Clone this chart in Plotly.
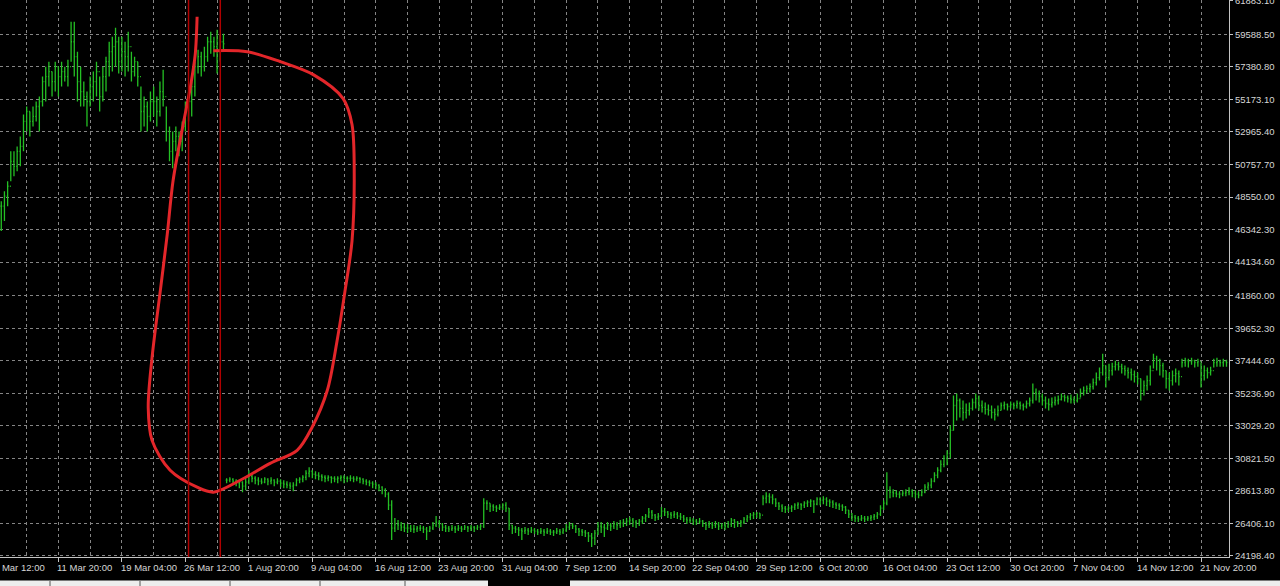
import plotly.graph_objects as go

# ---------------- data ----------------
FIRST_BAR = 2            # index of the first visible bar
BLOCK_STARTS = [2, 73]   # bars where a new history block starts (March block, August block)

bar_high = [
    48270, 48947, 49623, 51651, 51651, 51989, 52665, 54153,
    54694, 54356, 54694, 55032, 55370, 56722, 57398, 57737, 57062, 57737,
    57398, 57737, 57398, 57872, 60441, 60441, 58415, 57398, 56384, 55708,
    56722, 57062, 57737, 56722, 57398, 58074, 59089, 59427, 60036, 59427,
    59427, 59089, 59765, 58415, 58074, 57737, 56046, 55370, 55032, 55708,
    56046, 55370, 56384, 57196, 54694, 53341, 53003, 53341, 53003, 53679,
    55032, 55708, 56384, 57737, 58548, 58415, 58751, 59427, 59765, 59427,
    59900, 59562, 59630,
    29474, 29542, 29474, 29407, 29339, 29272, 29474,
    30015, 29745, 29610, 29542, 29474, 29542, 29474, 29542, 29407, 29474,
    29407, 29339, 29272, 29204, 29204, 29474, 29542, 29677, 30015, 30218,
    30015, 29948, 29880, 29745, 29677, 29677, 29610, 29610, 29610, 29677,
    29677, 29610, 29677, 29610, 29610, 29542, 29474, 29407, 29339, 29272,
    29204, 29069, 28934, 28798, 28528, 27987, 26770, 26635, 26500, 26432,
    26365, 26297, 26297, 26230, 26297, 26230, 26162, 26230, 26500, 26906,
    26635, 26432, 26297, 26230, 26297, 26230, 26297, 26230, 26297, 26230,
    26297, 26230, 26297, 26365, 28122, 27987, 27784, 27717, 27649, 27717,
    27784, 27852, 27446, 26297, 26230, 26162, 26094, 26162, 26094, 26162,
    26094, 26027, 26094, 26027, 26094, 26027, 25959, 26094, 26027, 26094,
    26365, 26500, 26432, 26297, 26094, 26027, 25959, 25824, 25756, 25959,
    26500, 26500, 26365, 26500, 26432, 26568, 26500, 26635, 26703, 26770,
    26838, 26770, 26635, 26703, 26906, 27041, 27446, 27311, 27041, 27108,
    27514, 27446, 27244, 27176, 27244, 27176, 27108, 26973, 26838, 26838,
    26770, 26703, 26770, 26635, 26500, 26568, 26500, 26568, 26500, 26432,
    26500, 26568, 26770, 26703, 26568, 26635, 26838, 26973, 27108, 27176,
    27176, 27108, 28325, 28528, 28460, 28393, 28122, 27852, 27717, 27582,
    27582, 27649, 27784, 27852, 27784, 27920, 27987, 28055, 27987, 28190,
    28190, 28258, 28190, 28055, 27987, 27852, 27784, 27717, 27582, 27311,
    27108, 26973, 26906, 26973, 26906, 26906, 26973, 27041, 27176, 27649,
    27987, 29880, 28934, 28731, 28663, 28596, 28663, 28731, 28866, 28731,
    28663, 28596, 28731, 29069, 29204, 29474, 29880, 30218, 30691, 31029,
    31367, 33058, 35086, 35221, 34883, 34748, 34545, 34613, 34883, 35221,
    35086, 34748, 34613, 34477, 34410, 34207, 34410, 34613, 34680, 34545,
    34680, 34613, 34748, 34680, 34545, 34748, 34951, 35897, 35559, 35424,
    35221, 35018, 34883, 34951, 35018, 35086, 35221, 35153, 35086, 35153,
    35018, 35221, 35559, 35694, 35762, 35897, 36235, 36641, 36979, 37925,
    37114, 37249, 37317, 37452, 37384, 37249, 37114, 36979, 36911, 36776,
    36641, 36235, 36100, 36438, 37114, 37925, 37790, 37587, 37317, 36776,
    36641, 36776, 36911, 36776, 37587, 37655, 37587, 37655, 37519, 37587,
    37317, 37114, 36979, 37046, 37587, 37655, 37519, 37587, 37519,
]

bar_low = [
    46242, 46918, 47932, 49623, 49961, 50299, 50637, 51651,
    53003, 52665, 53341, 53679, 53003, 54694, 55032, 56046, 55370, 55708,
    55370, 56046, 56384, 56046, 57737, 56722, 55032, 54694, 54694, 53341,
    54694, 55032, 55370, 54356, 55032, 55708, 56722, 57062, 57398, 56925,
    57062, 56722, 57062, 56384, 56722, 56046, 53003, 53341, 53003, 53679,
    54018, 53341, 54018, 54694, 52327, 50975, 50502, 51651, 51313, 51651,
    53003, 53679, 54018, 55370, 56925, 56722, 57062, 57737, 58278, 58074,
    56925, 57737, 58548,
    29136, 29204, 29136, 28934, 28798, 28528, 28663,
    29069, 29204, 29069, 29001, 29069, 29136, 29001, 29069, 28934, 29069,
    28866, 28798, 28798, 28731, 28596, 28934, 29136, 29204, 29339, 29542,
    29474, 29407, 29339, 29272, 29204, 29272, 29136, 29204, 29136, 29272,
    29136, 29204, 29272, 29204, 29272, 29136, 29069, 29001, 28934, 28798,
    28731, 28596, 28393, 28190, 27311, 25283, 25824, 25959, 25892, 25824,
    25756, 25824, 25756, 25824, 25892, 25756, 25283, 25824, 25959, 26162,
    26094, 25892, 25824, 25824, 25892, 25756, 25892, 25824, 25959, 25824,
    25892, 25824, 25959, 25959, 26094, 27311, 27176, 27244, 27176, 27311,
    27311, 27176, 25959, 25689, 25756, 25554, 25283, 25689, 25621, 25756,
    25689, 25621, 25689, 25554, 25689, 25621, 25554, 25689, 25621, 25689,
    25824, 25959, 26027, 25756, 25554, 25554, 25486, 25148, 24810, 24945,
    25621, 25756, 25486, 25959, 25892, 26027, 25959, 26094, 26162, 26230,
    26297, 26162, 26094, 26230, 26365, 26500, 26770, 26703, 26568, 26635,
    26838, 26906, 26770, 26703, 26770, 26703, 26635, 26500, 26365, 26432,
    26297, 26297, 26365, 26162, 25959, 26094, 26027, 26094, 25959, 26027,
    25959, 26094, 26162, 26094, 26162, 26162, 26365, 26500, 26635, 26703,
    26770, 26703, 27649, 27784, 27784, 27717, 27514, 27311, 27176, 27108,
    27176, 27176, 27311, 27379, 27311, 27446, 27514, 27514, 27108, 27649,
    27649, 27717, 27582, 27514, 27446, 27379, 27311, 27244, 27041, 26770,
    26568, 26500, 26500, 26568, 26500, 26568, 26568, 26635, 26703, 26906,
    27311, 27649, 28122, 28190, 28190, 28122, 28258, 28258, 28325, 28190,
    28122, 28122, 28258, 28460, 28663, 28798, 29204, 29474, 29880, 30218,
    30353, 30826, 32720, 33396, 33599, 33396, 33531, 33734, 34072, 34207,
    34072, 33937, 33801, 33734, 33531, 33396, 33666, 34072, 34139, 34072,
    34207, 34139, 34207, 34139, 34072, 34207, 34342, 34545, 34748, 34613,
    34410, 34207, 34072, 34275, 34410, 34477, 34748, 34680, 34613, 34545,
    34545, 34613, 34951, 35086, 35221, 35289, 35491, 35762, 36100, 36438,
    35627, 36100, 36438, 36776, 36776, 36573, 36438, 36235, 36100, 35965,
    35829, 34748, 35086, 35424, 35762, 36911, 36776, 36438, 36303, 35559,
    35424, 35762, 35965, 35762, 36979, 37046, 36979, 37181, 36979, 37046,
    35627, 36100, 36235, 36438, 36979, 37046, 37046, 37046, 37046,
]

bar_close = [
    47932, 48609, 49285, 50975, 50637, 51651, 51989, 53679,
    54356, 53679, 54018, 54694, 55032, 56384, 56722, 57062, 56384, 57398,
    56722, 57062, 56722, 57398, 59089, 58074, 56384, 55708, 55370, 55032,
    56046, 56384, 57062, 55370, 56722, 57737, 58415, 58751, 59089, 57737,
    58415, 58074, 58751, 57062, 57737, 56722, 54356, 54694, 54018, 55032,
    55032, 54356, 55708, 55370, 53003, 51651, 52327, 52665, 52327, 53341,
    54694, 55032, 56046, 57398, 58074, 57398, 58074, 59089, 59089, 58751,
    58415, 59089, 58953,
    29339, 29407, 29272, 29136, 29204, 28934, 29204,
    29610, 29474, 29339, 29272, 29204, 29407, 29272, 29339, 29204, 29272,
    29136, 29069, 29001, 28934, 29001, 29339, 29407, 29542, 29812, 29948,
    29745, 29677, 29610, 29542, 29474, 29542, 29474, 29407, 29474, 29542,
    29474, 29474, 29474, 29407, 29474, 29407, 29272, 29204, 29136, 29069,
    29001, 28866, 28663, 28393, 27649, 26094, 26365, 26297, 26162, 26094,
    26094, 26027, 26027, 26094, 26094, 26027, 25892, 26094, 26297, 26500,
    26365, 26162, 26094, 26027, 26094, 26027, 26094, 26027, 26162, 26094,
    26162, 26094, 26162, 26230, 27784, 27784, 27582, 27514, 27446, 27514,
    27649, 27446, 26297, 26094, 26027, 25959, 25892, 25959, 25892, 25959,
    25892, 25824, 25892, 25824, 25892, 25824, 25824, 25892, 25824, 25959,
    26162, 26297, 26230, 26027, 25892, 25824, 25756, 25554, 25418, 25756,
    26230, 26162, 26094, 26297, 26230, 26365, 26297, 26432, 26500, 26568,
    26635, 26500, 26432, 26568, 26770, 26906, 27176, 26973, 26838, 26906,
    27244, 27176, 27041, 26973, 27041, 26906, 26838, 26703, 26635, 26635,
    26568, 26500, 26568, 26432, 26297, 26365, 26297, 26365, 26230, 26297,
    26230, 26365, 26635, 26500, 26432, 26500, 26703, 26838, 26973, 27041,
    27108, 26973, 28122, 28258, 28190, 28055, 27784, 27582, 27446, 27379,
    27446, 27514, 27649, 27717, 27649, 27784, 27852, 27920, 27717, 28055,
    27987, 28055, 27920, 27852, 27717, 27649, 27582, 27514, 27311, 27041,
    26838, 26770, 26703, 26770, 26703, 26770, 26838, 26906, 27041, 27446,
    27784, 28663, 28528, 28460, 28393, 28393, 28460, 28528, 28596, 28460,
    28393, 28325, 28528, 28866, 29001, 29272, 29677, 30015, 30420, 30826,
    31164, 32720, 34410, 34748, 34207, 33937, 34072, 34207, 34613, 34883,
    34410, 34275, 34139, 34072, 33937, 33801, 34072, 34410, 34477, 34342,
    34477, 34410, 34545, 34410, 34342, 34545, 34748, 35289, 35221, 35018,
    34748, 34545, 34477, 34613, 34748, 34815, 35018, 34951, 34883, 34815,
    34748, 34883, 35289, 35424, 35559, 35694, 35965, 36303, 36641, 37114,
    36303, 36776, 37046, 37181, 37046, 36911, 36776, 36641, 36505, 36370,
    36235, 35424, 35762, 36100, 36776, 37587, 37452, 37114, 36776, 36235,
    36100, 36438, 36573, 36370, 37317, 37452, 37384, 37452, 37317, 37384,
    36438, 36776, 36641, 36776, 37317, 37384, 37317, 37384, 37317,
]

# time-axis labels (one every 20 bars)
tick_bars = [0, 20, 40, 60, 80, 100, 120, 140, 160, 180, 200, 220, 240, 260,
             280, 300, 320, 340, 360, 380]
tick_labels = ["4 Mar 12:00", "11 Mar 20:00", "19 Mar 04:00", "26 Mar 12:00",
               "1 Aug 20:00", "9 Aug 04:00", "16 Aug 12:00", "23 Aug 20:00",
               "31 Aug 04:00", "7 Sep 12:00", "14 Sep 20:00", "22 Sep 04:00",
               "29 Sep 12:00", "6 Oct 20:00", "16 Oct 04:00", "23 Oct 12:00",
               "30 Oct 20:00", "7 Nov 04:00", "14 Nov 12:00", "21 Nov 20:00"]

# price-axis labels
price_ticks = [24198.40, 26406.10, 28613.80, 30821.50, 33029.20, 35236.90,
               37444.60, 39652.30, 41860.00, 44134.60, 46342.30, 48550.00,
               50757.70, 52965.40, 55173.10, 57380.80, 59588.50, 61883.10]

# vertical marker lines (bar index)
vline_bars = [61, 71]

# hand-drawn red loop (bar index, price)
loop_bar = [63.7, 63.1, 61.5, 59.3, 56.1, 54.3, 52.1, 49.5, 48.3, 49.5, 55.2,
            63.7, 68.8, 77.3, 86.7, 95.2, 99.9, 104.7, 107.8, 110.3, 112.5,
            113.2, 112.5, 109.7, 100.3, 89.9, 79.5, 68.8]
loop_price = [60779, 58210, 55911, 53477, 49622, 46039, 42185, 37654, 34274,
              32042, 30014, 28865, 28527, 29337, 30486, 31366, 32921, 35423,
              38804, 42185, 45565, 50095, 53478, 55235, 56858, 57737, 58413,
              58480]

# ---------------- figure ----------------
W, H = 1280, 586
PLOT_W, PLOT_H = 1229, 557
X_RANGE = [1.6, 388.8]
Y_RANGE = [24130, 61920]

GREEN = "#24c024"
GRID = "#858585"
AXIS = "#c4c4c4"
TEXT = "#d6d6d6"
FONT = "Liberation Sans"

n = min(len(bar_high), len(bar_low), len(bar_close))
bar_index = list(range(FIRST_BAR, FIRST_BAR + n))
bar_open = []
for k in range(n):
    if bar_index[k] in BLOCK_STARTS:
        bar_open.append(bar_close[k])
    else:
        bar_open.append(bar_close[k - 1])

fig = go.Figure()
fig.add_trace(go.Ohlc(
    x=bar_index, open=bar_open, high=bar_high[:n], low=bar_low[:n], close=bar_close[:n],
    increasing=dict(line=dict(color=GREEN, width=1.3)),
    decreasing=dict(line=dict(color=GREEN, width=1.3)),
    tickwidth=0.3, showlegend=False, hoverinfo="skip",
))

for b in vline_bars:
    fig.add_vline(x=b, line_color="#b00000", line_width=1.5)

fig.add_trace(go.Scatter(
    x=loop_bar, y=loop_price, mode="lines",
    line=dict(color="#e3262a", width=3, shape="spline", smoothing=0.9),
    showlegend=False, hoverinfo="skip",
))

px_per_bar = PLOT_W / (X_RANGE[1] - X_RANGE[0])
for b, lab in zip(tick_bars, tick_labels):
    xa = max(b, X_RANGE[0] + 0.5)
    fig.add_annotation(
        x=xa, xref="x", y=0, yref="paper", xanchor="left", yanchor="top",
        xshift=(b - xa) * px_per_bar - 3, yshift=-3, showarrow=False, text=lab,
        font=dict(family=FONT, size=9.5, color=TEXT),
    )

# bottom tab strip (terminal chrome)
def py2paper(py):
    return (PLOT_H - py) / PLOT_H

for x0, x1 in [(0, 488), (570, 1280)]:
    fig.add_shape(type="rect", xref="paper", yref="paper",
                  x0=x0 / PLOT_W, x1=x1 / PLOT_W, y0=py2paper(586), y1=py2paper(580.5),
                  fillcolor="#ededed", line_width=0, layer="above")
for sx in [50, 140, 230, 320, 405]:
    fig.add_shape(type="line", xref="paper", yref="paper",
                  x0=sx / PLOT_W, x1=sx / PLOT_W, y0=py2paper(586), y1=py2paper(581),
                  line=dict(color="#555555", width=1), layer="above")

grid_common = dict(gridcolor=GRID, griddash="3px,3px", gridwidth=1)
fig.update_layout(
    width=W, height=H,
    margin=dict(l=0, r=W - PLOT_W, t=0, b=H - PLOT_H, autoexpand=False),
    paper_bgcolor="black", plot_bgcolor="black",
    showlegend=False,
    xaxis=dict(
        range=X_RANGE, showgrid=True, **grid_common, automargin=False,
        tick0=0, dtick=20, ticks="outside", ticklen=4, tickcolor=AXIS,
        showticklabels=False, showline=True, linecolor=AXIS, linewidth=1,
        zeroline=False, fixedrange=True,
        minor=dict(tick0=0, dtick=10, showgrid=True, ticks="", **grid_common),
        rangeslider=dict(visible=False),
    ),
    yaxis=dict(
        range=Y_RANGE, side="right", tickmode="array", tickvals=price_ticks,
        ticktext=[f"{v:.2f}" for v in price_ticks], ticklabeloverflow="allow",
        automargin=False,
        showgrid=True, **grid_common, ticks="outside", ticklen=3, tickcolor=AXIS,
        tickfont=dict(family=FONT, size=9.5, color=TEXT),
        showline=True, linecolor=AXIS, linewidth=1, zeroline=False, fixedrange=True,
    ),
)

fig.write_html(
    "out.html",
    config={"displayModeBar": False},
    post_script="document.body.style.margin='0px';document.body.style.overflow='hidden';",
)
